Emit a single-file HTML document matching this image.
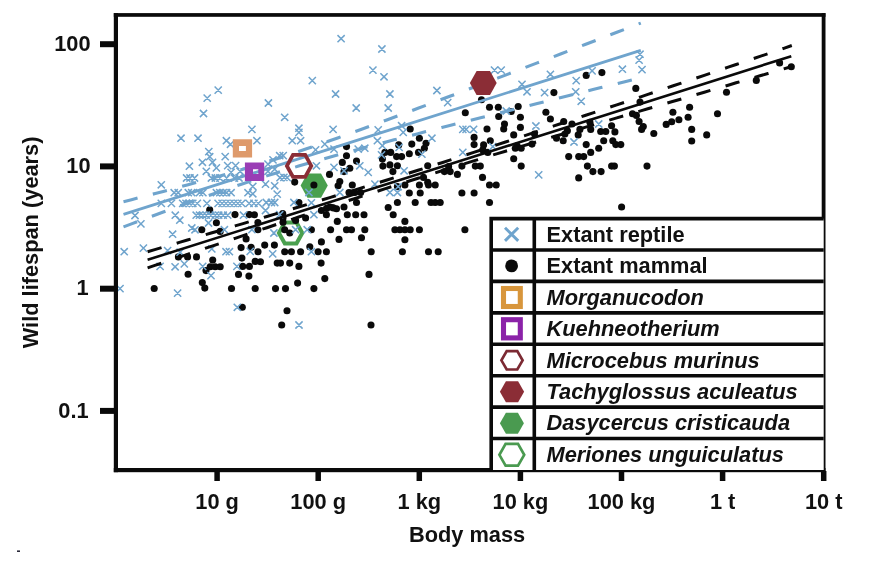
<!DOCTYPE html>
<html lang="en"><head><meta charset="utf-8"><title>Wild lifespan vs body mass</title>
<style>
html,body{margin:0;padding:0;background:#fff;}
body{width:888px;height:563px;overflow:hidden;}
svg{display:block;}
text{font-family:"Liberation Sans",Arial,Helvetica,sans-serif;font-weight:bold;fill:#111;}
.tk{font-size:21.8px;}
.lg{font-size:21.8px;}
.it{font-style:italic;}
</style></head><body>
<svg width="888" height="563" viewBox="0 0 888 563">
<rect width="888" height="563" fill="#fff"/>
<polygon points="327.8,185.6 321,197.7 307.4,197.7 300.6,185.6 307.4,173.5 321,173.5" fill="#4aa04e"/>
<polygon points="302.3,233 296.5,243.5 284.8,243.5 278.9,233 284.8,222.5 296.5,222.5" fill="none" stroke="#4aa04e" stroke-width="4"/>
<g fill="#0a0a0a">
<circle cx="481.5" cy="99.8" r="3.55"/>
<circle cx="489.5" cy="107.3" r="3.55"/>
<circle cx="498.3" cy="107.3" r="3.55"/>
<circle cx="518.2" cy="106.5" r="3.55"/>
<circle cx="465.3" cy="112.7" r="3.55"/>
<circle cx="511.2" cy="111.5" r="3.55"/>
<circle cx="545.9" cy="112.3" r="3.55"/>
<circle cx="553.9" cy="92.6" r="3.55"/>
<circle cx="586.2" cy="75.4" r="3.55"/>
<circle cx="601.9" cy="72.6" r="3.55"/>
<circle cx="635.8" cy="88.4" r="3.55"/>
<circle cx="640" cy="102.1" r="3.55"/>
<circle cx="672.9" cy="112.3" r="3.55"/>
<circle cx="689.6" cy="107.3" r="3.55"/>
<circle cx="632.5" cy="113.8" r="3.55"/>
<circle cx="779.6" cy="62.9" r="3.55"/>
<circle cx="791.3" cy="66.7" r="3.55"/>
<circle cx="756.3" cy="80.4" r="3.55"/>
<circle cx="726.5" cy="92.3" r="3.55"/>
<circle cx="717.5" cy="113.8" r="3.55"/>
<circle cx="209.7" cy="209.9" r="3.55"/>
<circle cx="235" cy="214.6" r="3.55"/>
<circle cx="249.3" cy="214.6" r="3.55"/>
<circle cx="216.4" cy="222.7" r="3.55"/>
<circle cx="254.4" cy="214.7" r="3.55"/>
<circle cx="201.8" cy="229.7" r="3.55"/>
<circle cx="220.2" cy="231.4" r="3.55"/>
<circle cx="246.1" cy="238.9" r="3.55"/>
<circle cx="241.1" cy="247.6" r="3.55"/>
<circle cx="251.1" cy="247.2" r="3.55"/>
<circle cx="255.2" cy="261.4" r="3.55"/>
<circle cx="178.4" cy="256.9" r="3.55"/>
<circle cx="187.6" cy="256.9" r="3.55"/>
<circle cx="196.5" cy="256.9" r="3.55"/>
<circle cx="212.7" cy="260.1" r="3.55"/>
<circle cx="210.2" cy="266.8" r="3.55"/>
<circle cx="215.2" cy="266.8" r="3.55"/>
<circle cx="220.2" cy="266.8" r="3.55"/>
<circle cx="206" cy="270.6" r="3.55"/>
<circle cx="241.9" cy="258.1" r="3.55"/>
<circle cx="242.7" cy="266.4" r="3.55"/>
<circle cx="249.4" cy="266.4" r="3.55"/>
<circle cx="238.5" cy="274.4" r="3.55"/>
<circle cx="248.9" cy="276.1" r="3.55"/>
<circle cx="188.1" cy="274.3" r="3.55"/>
<circle cx="202.3" cy="282.6" r="3.55"/>
<circle cx="204.8" cy="288.1" r="3.55"/>
<circle cx="154.2" cy="288.5" r="3.55"/>
<circle cx="231.5" cy="288.5" r="3.55"/>
<circle cx="255.2" cy="288.5" r="3.55"/>
<circle cx="257.9" cy="229.7" r="3.55"/>
<circle cx="346.5" cy="146.6" r="3.55"/>
<circle cx="346.5" cy="155.7" r="3.55"/>
<circle cx="342.3" cy="162.4" r="3.55"/>
<circle cx="356.5" cy="161.1" r="3.55"/>
<circle cx="349.8" cy="168.3" r="3.55"/>
<circle cx="344" cy="171.6" r="3.55"/>
<circle cx="329.5" cy="174.4" r="3.55"/>
<circle cx="294.7" cy="182.1" r="3.55"/>
<circle cx="313.9" cy="185" r="3.55"/>
<circle cx="339.8" cy="181.6" r="3.55"/>
<circle cx="338.1" cy="185.8" r="3.55"/>
<circle cx="352.3" cy="185" r="3.55"/>
<circle cx="349" cy="192.5" r="3.55"/>
<circle cx="354.8" cy="192.5" r="3.55"/>
<circle cx="360.7" cy="192.5" r="3.55"/>
<circle cx="356.5" cy="202.5" r="3.55"/>
<circle cx="298.9" cy="202.5" r="3.55"/>
<circle cx="398.7" cy="144.9" r="3.55"/>
<circle cx="384.9" cy="152.4" r="3.55"/>
<circle cx="390.7" cy="152.4" r="3.55"/>
<circle cx="396.6" cy="156.6" r="3.55"/>
<circle cx="401.6" cy="156.6" r="3.55"/>
<circle cx="382.4" cy="159.1" r="3.55"/>
<circle cx="382.9" cy="166.1" r="3.55"/>
<circle cx="389.9" cy="164.9" r="3.55"/>
<circle cx="397.4" cy="165.8" r="3.55"/>
<circle cx="392.9" cy="171.6" r="3.55"/>
<circle cx="397.4" cy="186.6" r="3.55"/>
<circle cx="404.9" cy="185" r="3.55"/>
<circle cx="397.4" cy="202.5" r="3.55"/>
<circle cx="344" cy="207" r="3.55"/>
<circle cx="329.8" cy="207" r="3.55"/>
<circle cx="388.2" cy="207.5" r="3.55"/>
<circle cx="326.4" cy="214.7" r="3.55"/>
<circle cx="347.3" cy="214.7" r="3.55"/>
<circle cx="355.7" cy="214.7" r="3.55"/>
<circle cx="364" cy="214.7" r="3.55"/>
<circle cx="393.2" cy="214.7" r="3.55"/>
<circle cx="321.4" cy="210.5" r="3.55"/>
<circle cx="336.5" cy="208.8" r="3.55"/>
<circle cx="337.3" cy="221.4" r="3.55"/>
<circle cx="404.9" cy="221.4" r="3.55"/>
<circle cx="330.6" cy="229.7" r="3.55"/>
<circle cx="346.5" cy="229.7" r="3.55"/>
<circle cx="351.5" cy="229.7" r="3.55"/>
<circle cx="364.8" cy="229.7" r="3.55"/>
<circle cx="394.9" cy="229.7" r="3.55"/>
<circle cx="399.9" cy="229.7" r="3.55"/>
<circle cx="404.9" cy="229.7" r="3.55"/>
<circle cx="311.4" cy="229.7" r="3.55"/>
<circle cx="284.7" cy="229.7" r="3.55"/>
<circle cx="289.7" cy="233" r="3.55"/>
<circle cx="339" cy="239.4" r="3.55"/>
<circle cx="361.5" cy="237.7" r="3.55"/>
<circle cx="321.4" cy="241.9" r="3.55"/>
<circle cx="404.9" cy="239.7" r="3.55"/>
<circle cx="264.7" cy="245.1" r="3.55"/>
<circle cx="274.4" cy="245.1" r="3.55"/>
<circle cx="309.8" cy="246.7" r="3.55"/>
<circle cx="258" cy="251.7" r="3.55"/>
<circle cx="284.7" cy="251.7" r="3.55"/>
<circle cx="291.4" cy="251.7" r="3.55"/>
<circle cx="300.6" cy="251.7" r="3.55"/>
<circle cx="318.1" cy="251.7" r="3.55"/>
<circle cx="326.4" cy="251.7" r="3.55"/>
<circle cx="371.2" cy="251.7" r="3.55"/>
<circle cx="402.4" cy="251.7" r="3.55"/>
<circle cx="260.5" cy="261.8" r="3.55"/>
<circle cx="277.2" cy="263.1" r="3.55"/>
<circle cx="280.5" cy="263.1" r="3.55"/>
<circle cx="289.7" cy="263.1" r="3.55"/>
<circle cx="321.1" cy="263.1" r="3.55"/>
<circle cx="298.9" cy="266.4" r="3.55"/>
<circle cx="369" cy="274.4" r="3.55"/>
<circle cx="324.8" cy="278.6" r="3.55"/>
<circle cx="297.6" cy="283.1" r="3.55"/>
<circle cx="275.5" cy="288.6" r="3.55"/>
<circle cx="285.5" cy="288.6" r="3.55"/>
<circle cx="313.9" cy="288.6" r="3.55"/>
<circle cx="283" cy="218" r="3.55"/>
<circle cx="295.6" cy="220.5" r="3.55"/>
<circle cx="305.6" cy="218" r="3.55"/>
<circle cx="283" cy="222.2" r="3.55"/>
<circle cx="498.7" cy="116.5" r="3.55"/>
<circle cx="520.4" cy="117.3" r="3.55"/>
<circle cx="550.4" cy="119" r="3.55"/>
<circle cx="410.2" cy="129" r="3.55"/>
<circle cx="487" cy="129" r="3.55"/>
<circle cx="504.5" cy="124" r="3.55"/>
<circle cx="503.7" cy="129" r="3.55"/>
<circle cx="520.4" cy="127.4" r="3.55"/>
<circle cx="513.7" cy="134.9" r="3.55"/>
<circle cx="419.4" cy="138.2" r="3.55"/>
<circle cx="411.8" cy="144.1" r="3.55"/>
<circle cx="426" cy="143.2" r="3.55"/>
<circle cx="424.4" cy="148.2" r="3.55"/>
<circle cx="409.3" cy="153.7" r="3.55"/>
<circle cx="418.5" cy="152.4" r="3.55"/>
<circle cx="474.1" cy="137.4" r="3.55"/>
<circle cx="474.1" cy="144.6" r="3.55"/>
<circle cx="490.3" cy="140.7" r="3.55"/>
<circle cx="483.6" cy="144.9" r="3.55"/>
<circle cx="482.8" cy="149.9" r="3.55"/>
<circle cx="487.8" cy="152.4" r="3.55"/>
<circle cx="517" cy="145.7" r="3.55"/>
<circle cx="515.3" cy="148.2" r="3.55"/>
<circle cx="521.2" cy="148.2" r="3.55"/>
<circle cx="532" cy="144.1" r="3.55"/>
<circle cx="534.5" cy="134" r="3.55"/>
<circle cx="513.7" cy="158.7" r="3.55"/>
<circle cx="521.2" cy="166.1" r="3.55"/>
<circle cx="427.7" cy="165.8" r="3.55"/>
<circle cx="448.6" cy="166.6" r="3.55"/>
<circle cx="444.4" cy="171.6" r="3.55"/>
<circle cx="450.2" cy="171.6" r="3.55"/>
<circle cx="461.9" cy="166.1" r="3.55"/>
<circle cx="475.3" cy="166.1" r="3.55"/>
<circle cx="480.3" cy="166.1" r="3.55"/>
<circle cx="457.4" cy="174.4" r="3.55"/>
<circle cx="423.5" cy="177.4" r="3.55"/>
<circle cx="482.5" cy="177.4" r="3.55"/>
<circle cx="419.4" cy="185" r="3.55"/>
<circle cx="427.7" cy="182.4" r="3.55"/>
<circle cx="428.5" cy="185" r="3.55"/>
<circle cx="435.2" cy="185" r="3.55"/>
<circle cx="489.5" cy="185" r="3.55"/>
<circle cx="496.2" cy="185" r="3.55"/>
<circle cx="409.3" cy="193" r="3.55"/>
<circle cx="420.2" cy="193" r="3.55"/>
<circle cx="461.9" cy="193" r="3.55"/>
<circle cx="474.1" cy="193" r="3.55"/>
<circle cx="415.2" cy="202.5" r="3.55"/>
<circle cx="431" cy="202.5" r="3.55"/>
<circle cx="435.2" cy="202.5" r="3.55"/>
<circle cx="440.2" cy="202.5" r="3.55"/>
<circle cx="489.5" cy="202.5" r="3.55"/>
<circle cx="410.2" cy="229.7" r="3.55"/>
<circle cx="419.4" cy="229.7" r="3.55"/>
<circle cx="464.9" cy="229.7" r="3.55"/>
<circle cx="428.5" cy="251.7" r="3.55"/>
<circle cx="438.2" cy="251.7" r="3.55"/>
<circle cx="639.1" cy="121.5" r="3.55"/>
<circle cx="643.3" cy="126.5" r="3.55"/>
<circle cx="641.6" cy="129.4" r="3.55"/>
<circle cx="653.8" cy="133.5" r="3.55"/>
<circle cx="666.2" cy="124.4" r="3.55"/>
<circle cx="671.7" cy="121.8" r="3.55"/>
<circle cx="678.9" cy="119.8" r="3.55"/>
<circle cx="688.1" cy="117.3" r="3.55"/>
<circle cx="691.7" cy="129.4" r="3.55"/>
<circle cx="691.7" cy="141" r="3.55"/>
<circle cx="563.7" cy="121.5" r="3.55"/>
<circle cx="572" cy="124" r="3.55"/>
<circle cx="567.4" cy="130.7" r="3.55"/>
<circle cx="564.9" cy="134" r="3.55"/>
<circle cx="556.5" cy="138.2" r="3.55"/>
<circle cx="563.2" cy="140.7" r="3.55"/>
<circle cx="579.9" cy="129.4" r="3.55"/>
<circle cx="578.2" cy="134.9" r="3.55"/>
<circle cx="589.9" cy="122.3" r="3.55"/>
<circle cx="590.7" cy="129.4" r="3.55"/>
<circle cx="600.7" cy="131.5" r="3.55"/>
<circle cx="605.8" cy="131.5" r="3.55"/>
<circle cx="611.6" cy="125.7" r="3.55"/>
<circle cx="614.9" cy="131.9" r="3.55"/>
<circle cx="603.7" cy="140.7" r="3.55"/>
<circle cx="612.8" cy="140.7" r="3.55"/>
<circle cx="615.8" cy="144.6" r="3.55"/>
<circle cx="620.8" cy="144.6" r="3.55"/>
<circle cx="586.2" cy="144.6" r="3.55"/>
<circle cx="598.7" cy="148.2" r="3.55"/>
<circle cx="590.7" cy="152.4" r="3.55"/>
<circle cx="568.7" cy="156.6" r="3.55"/>
<circle cx="578.7" cy="156.6" r="3.55"/>
<circle cx="583.7" cy="156.6" r="3.55"/>
<circle cx="587.4" cy="166.1" r="3.55"/>
<circle cx="592.9" cy="171.6" r="3.55"/>
<circle cx="601.1" cy="171.6" r="3.55"/>
<circle cx="611.6" cy="166.1" r="3.55"/>
<circle cx="614.4" cy="166.1" r="3.55"/>
<circle cx="647" cy="166.1" r="3.55"/>
<circle cx="578.7" cy="177.9" r="3.55"/>
<circle cx="621.6" cy="207" r="3.55"/>
<circle cx="282.7" cy="213.5" r="3.55"/>
<circle cx="326.6" cy="208.4" r="3.55"/>
<circle cx="333.3" cy="207.9" r="3.55"/>
<circle cx="257.9" cy="222.5" r="3.55"/>
<circle cx="706.7" cy="134.9" r="3.55"/>
<circle cx="242.3" cy="307.3" r="3.55"/>
<circle cx="287" cy="310.7" r="3.55"/>
<circle cx="281.7" cy="325" r="3.55"/>
<circle cx="371" cy="325" r="3.55"/>
<circle cx="636.4" cy="115.4" r="3.55"/>
</g>
<g stroke="#6fa4cd" stroke-width="1.5" fill="none" stroke-linecap="butt">
<path d="M214.6 86.5l7.2 7.2m0 -7.2l-7.2 7.2M203.6 94.5l7.2 7.2m0 -7.2l-7.2 7.2M199.9 109.9l7.2 7.2m0 -7.2l-7.2 7.2M337.5 35.1l7.2 7.2m0 -7.2l-7.2 7.2M378.3 45.4l7.2 7.2m0 -7.2l-7.2 7.2M369.3 66.5l7.2 7.2m0 -7.2l-7.2 7.2M380.4 73.2l7.2 7.2m0 -7.2l-7.2 7.2M308.7 77l7.2 7.2m0 -7.2l-7.2 7.2M332 90.4l7.2 7.2m0 -7.2l-7.2 7.2M386.3 90.4l7.2 7.2m0 -7.2l-7.2 7.2M264.8 99.4l7.2 7.2m0 -7.2l-7.2 7.2M352.6 104.4l7.2 7.2m0 -7.2l-7.2 7.2M384.6 104.4l7.2 7.2m0 -7.2l-7.2 7.2M433.3 86.9l7.2 7.2m0 -7.2l-7.2 7.2M444.1 99l7.2 7.2m0 -7.2l-7.2 7.2M490.9 66.5l7.2 7.2m0 -7.2l-7.2 7.2M497.6 66.5l7.2 7.2m0 -7.2l-7.2 7.2M518.4 80.7l7.2 7.2m0 -7.2l-7.2 7.2M523.4 88.2l7.2 7.2m0 -7.2l-7.2 7.2M541 89l7.2 7.2m0 -7.2l-7.2 7.2M546.8 70.7l7.2 7.2m0 -7.2l-7.2 7.2M502.6 107.4l7.2 7.2m0 -7.2l-7.2 7.2M636.4 50.6l7.2 7.2m0 -7.2l-7.2 7.2M635.5 56.5l7.2 7.2m0 -7.2l-7.2 7.2M638.4 66l7.2 7.2m0 -7.2l-7.2 7.2M618.8 65.6l7.2 7.2m0 -7.2l-7.2 7.2M588.5 67.3l7.2 7.2m0 -7.2l-7.2 7.2M572.6 77l7.2 7.2m0 -7.2l-7.2 7.2M572.1 88.2l7.2 7.2m0 -7.2l-7.2 7.2M577.6 97.7l7.2 7.2m0 -7.2l-7.2 7.2M157.7 199.8l7.2 7.2m0 -7.2l-7.2 7.2M167.8 199.8l7.2 7.2m0 -7.2l-7.2 7.2M179.1 199.8l7.2 7.2m0 -7.2l-7.2 7.2M182.4 199.8l7.2 7.2m0 -7.2l-7.2 7.2M185.8 199.8l7.2 7.2m0 -7.2l-7.2 7.2M189.2 199.8l7.2 7.2m0 -7.2l-7.2 7.2M193.7 199.8l7.2 7.2m0 -7.2l-7.2 7.2M203.3 199.8l7.2 7.2m0 -7.2l-7.2 7.2M214.5 199.8l7.2 7.2m0 -7.2l-7.2 7.2M218.5 199.8l7.2 7.2m0 -7.2l-7.2 7.2M222.4 199.8l7.2 7.2m0 -7.2l-7.2 7.2M226.4 199.8l7.2 7.2m0 -7.2l-7.2 7.2M230.3 199.8l7.2 7.2m0 -7.2l-7.2 7.2M234.2 199.8l7.2 7.2m0 -7.2l-7.2 7.2M238.2 199.8l7.2 7.2m0 -7.2l-7.2 7.2M245.5 199.8l7.2 7.2m0 -7.2l-7.2 7.2M170.6 189.1l7.2 7.2m0 -7.2l-7.2 7.2M174.6 189.1l7.2 7.2m0 -7.2l-7.2 7.2M184.7 189.1l7.2 7.2m0 -7.2l-7.2 7.2M188.1 189.1l7.2 7.2m0 -7.2l-7.2 7.2M195.9 189.1l7.2 7.2m0 -7.2l-7.2 7.2M199.3 189.1l7.2 7.2m0 -7.2l-7.2 7.2M212.8 189.1l7.2 7.2m0 -7.2l-7.2 7.2M216.2 189.1l7.2 7.2m0 -7.2l-7.2 7.2M219.6 189.1l7.2 7.2m0 -7.2l-7.2 7.2M223 189.1l7.2 7.2m0 -7.2l-7.2 7.2M227.5 189.1l7.2 7.2m0 -7.2l-7.2 7.2M244.4 189.1l7.2 7.2m0 -7.2l-7.2 7.2M171.7 211.6l7.2 7.2m0 -7.2l-7.2 7.2M192.6 211.6l7.2 7.2m0 -7.2l-7.2 7.2M195.9 211.6l7.2 7.2m0 -7.2l-7.2 7.2M199.3 211.6l7.2 7.2m0 -7.2l-7.2 7.2M202.7 211.6l7.2 7.2m0 -7.2l-7.2 7.2M207.2 211.6l7.2 7.2m0 -7.2l-7.2 7.2M211.7 211.6l7.2 7.2m0 -7.2l-7.2 7.2M215.1 211.6l7.2 7.2m0 -7.2l-7.2 7.2M219.6 211.6l7.2 7.2m0 -7.2l-7.2 7.2M224.1 211.6l7.2 7.2m0 -7.2l-7.2 7.2M239.9 211.6l7.2 7.2m0 -7.2l-7.2 7.2M176.2 216.6l7.2 7.2m0 -7.2l-7.2 7.2M183 174.4l7.2 7.2m0 -7.2l-7.2 7.2M186.4 174.4l7.2 7.2m0 -7.2l-7.2 7.2M190.9 174.4l7.2 7.2m0 -7.2l-7.2 7.2M207.8 174.4l7.2 7.2m0 -7.2l-7.2 7.2M211.7 174.4l7.2 7.2m0 -7.2l-7.2 7.2M216.2 174.4l7.2 7.2m0 -7.2l-7.2 7.2M223 174.4l7.2 7.2m0 -7.2l-7.2 7.2M230.9 174.4l7.2 7.2m0 -7.2l-7.2 7.2M235.4 174.4l7.2 7.2m0 -7.2l-7.2 7.2M185.8 162.6l7.2 7.2m0 -7.2l-7.2 7.2M202.7 167.7l7.2 7.2m0 -7.2l-7.2 7.2M198.8 158.7l7.2 7.2m0 -7.2l-7.2 7.2M208.9 158.7l7.2 7.2m0 -7.2l-7.2 7.2M212.8 164.3l7.2 7.2m0 -7.2l-7.2 7.2M224.1 162l7.2 7.2m0 -7.2l-7.2 7.2M232 162l7.2 7.2m0 -7.2l-7.2 7.2M227.5 168.8l7.2 7.2m0 -7.2l-7.2 7.2M236.5 167.7l7.2 7.2m0 -7.2l-7.2 7.2M157.7 181.2l7.2 7.2m0 -7.2l-7.2 7.2M248.3 125.8l7.2 7.2m0 -7.2l-7.2 7.2M177.4 134.6l7.2 7.2m0 -7.2l-7.2 7.2M194.4 134.6l7.2 7.2m0 -7.2l-7.2 7.2M222.8 137.1l7.2 7.2m0 -7.2l-7.2 7.2M253.3 137.1l7.2 7.2m0 -7.2l-7.2 7.2M205.2 148l7.2 7.2m0 -7.2l-7.2 7.2M221.6 153l7.2 7.2m0 -7.2l-7.2 7.2M131.4 211.9l7.2 7.2m0 -7.2l-7.2 7.2M137.3 220.3l7.2 7.2m0 -7.2l-7.2 7.2M169 230.6l7.2 7.2m0 -7.2l-7.2 7.2M188.2 224.4l7.2 7.2m0 -7.2l-7.2 7.2M204.9 219.4l7.2 7.2m0 -7.2l-7.2 7.2M120.6 248.1l7.2 7.2m0 -7.2l-7.2 7.2M139.8 244.5l7.2 7.2m0 -7.2l-7.2 7.2M164 247l7.2 7.2m0 -7.2l-7.2 7.2M176.5 248.6l7.2 7.2m0 -7.2l-7.2 7.2M208.2 245.3l7.2 7.2m0 -7.2l-7.2 7.2M222.4 248.1l7.2 7.2m0 -7.2l-7.2 7.2M225.8 248.1l7.2 7.2m0 -7.2l-7.2 7.2M246.6 247.8l7.2 7.2m0 -7.2l-7.2 7.2M171.5 263.2l7.2 7.2m0 -7.2l-7.2 7.2M180.7 260.3l7.2 7.2m0 -7.2l-7.2 7.2M156.5 262.8l7.2 7.2m0 -7.2l-7.2 7.2M199.1 262.8l7.2 7.2m0 -7.2l-7.2 7.2M207.4 272l7.2 7.2m0 -7.2l-7.2 7.2M233.3 262.8l7.2 7.2m0 -7.2l-7.2 7.2M174 289.5l7.2 7.2m0 -7.2l-7.2 7.2M116.4 285l7.2 7.2m0 -7.2l-7.2 7.2M220.8 226.1l7.2 7.2m0 -7.2l-7.2 7.2M248.3 226.1l7.2 7.2m0 -7.2l-7.2 7.2M281.1 113.7l7.2 7.2m0 -7.2l-7.2 7.2M295.3 124.6l7.2 7.2m0 -7.2l-7.2 7.2M295.3 128.8l7.2 7.2m0 -7.2l-7.2 7.2M329.5 125.8l7.2 7.2m0 -7.2l-7.2 7.2M288.6 137.1l7.2 7.2m0 -7.2l-7.2 7.2M297 137.1l7.2 7.2m0 -7.2l-7.2 7.2M321.2 140.5l7.2 7.2m0 -7.2l-7.2 7.2M374.6 126.3l7.2 7.2m0 -7.2l-7.2 7.2M398 122.1l7.2 7.2m0 -7.2l-7.2 7.2M399.6 128.8l7.2 7.2m0 -7.2l-7.2 7.2M373.8 137.1l7.2 7.2m0 -7.2l-7.2 7.2M378.8 142.1l7.2 7.2m0 -7.2l-7.2 7.2M395.5 143.8l7.2 7.2m0 -7.2l-7.2 7.2M276.1 152.1l7.2 7.2m0 -7.2l-7.2 7.2M269.4 156.3l7.2 7.2m0 -7.2l-7.2 7.2M264.4 160.5l7.2 7.2m0 -7.2l-7.2 7.2M271.1 165.5l7.2 7.2m0 -7.2l-7.2 7.2M280.3 173.8l7.2 7.2m0 -7.2l-7.2 7.2M312.8 162.2l7.2 7.2m0 -7.2l-7.2 7.2M312 146.3l7.2 7.2m0 -7.2l-7.2 7.2M330.4 145.5l7.2 7.2m0 -7.2l-7.2 7.2M354.6 145.5l7.2 7.2m0 -7.2l-7.2 7.2M361.2 144.6l7.2 7.2m0 -7.2l-7.2 7.2M330.4 163.8l7.2 7.2m0 -7.2l-7.2 7.2M340.4 167.2l7.2 7.2m0 -7.2l-7.2 7.2M356.2 162.2l7.2 7.2m0 -7.2l-7.2 7.2M364.6 168.8l7.2 7.2m0 -7.2l-7.2 7.2M377.9 151.3l7.2 7.2m0 -7.2l-7.2 7.2M261.9 180.5l7.2 7.2m0 -7.2l-7.2 7.2M271.1 182.2l7.2 7.2m0 -7.2l-7.2 7.2M273.6 190.5l7.2 7.2m0 -7.2l-7.2 7.2M262.7 198.9l7.2 7.2m0 -7.2l-7.2 7.2M267.8 198.9l7.2 7.2m0 -7.2l-7.2 7.2M271.1 198.9l7.2 7.2m0 -7.2l-7.2 7.2M290.3 198.9l7.2 7.2m0 -7.2l-7.2 7.2M336.2 188.9l7.2 7.2m0 -7.2l-7.2 7.2M305.3 188.9l7.2 7.2m0 -7.2l-7.2 7.2M386.3 188.9l7.2 7.2m0 -7.2l-7.2 7.2M393.8 188.9l7.2 7.2m0 -7.2l-7.2 7.2M371.3 180.5l7.2 7.2m0 -7.2l-7.2 7.2M394.6 183l7.2 7.2m0 -7.2l-7.2 7.2M400.5 167.2l7.2 7.2m0 -7.2l-7.2 7.2M261.9 206.9l7.2 7.2m0 -7.2l-7.2 7.2M310.3 211.1l7.2 7.2m0 -7.2l-7.2 7.2M270.3 229.4l7.2 7.2m0 -7.2l-7.2 7.2M292 226.1l7.2 7.2m0 -7.2l-7.2 7.2M303.6 226.1l7.2 7.2m0 -7.2l-7.2 7.2M269.1 250.3l7.2 7.2m0 -7.2l-7.2 7.2M307.8 248.1l7.2 7.2m0 -7.2l-7.2 7.2M276.1 211.1l7.2 7.2m0 -7.2l-7.2 7.2M428.3 134.6l7.2 7.2m0 -7.2l-7.2 7.2M459.2 125.8l7.2 7.2m0 -7.2l-7.2 7.2M462.5 125.8l7.2 7.2m0 -7.2l-7.2 7.2M470 125.8l7.2 7.2m0 -7.2l-7.2 7.2M459.2 148.8l7.2 7.2m0 -7.2l-7.2 7.2M532.3 122.4l7.2 7.2m0 -7.2l-7.2 7.2M535.1 171.3l7.2 7.2m0 -7.2l-7.2 7.2M418.3 150.5l7.2 7.2m0 -7.2l-7.2 7.2M489.2 143l7.2 7.2m0 -7.2l-7.2 7.2M595.1 120.4l7.2 7.2m0 -7.2l-7.2 7.2M570.4 138.4l7.2 7.2m0 -7.2l-7.2 7.2M226.9 140.7l7.2 7.2m0 -7.2l-7.2 7.2M206.1 153.1l7.2 7.2m0 -7.2l-7.2 7.2M249.2 182.9l7.2 7.2m0 -7.2l-7.2 7.2M249.2 190.2l7.2 7.2m0 -7.2l-7.2 7.2M250.3 199.8l7.2 7.2m0 -7.2l-7.2 7.2M254.8 199.8l7.2 7.2m0 -7.2l-7.2 7.2M307.8 199.2l7.2 7.2m0 -7.2l-7.2 7.2M264.4 167.7l7.2 7.2m0 -7.2l-7.2 7.2M279.6 152l7.2 7.2m0 -7.2l-7.2 7.2M191.4 226.2l7.2 7.2m0 -7.2l-7.2 7.2M233.7 303.7l7.2 7.2m0 -7.2l-7.2 7.2M295.4 321.4l7.2 7.2m0 -7.2l-7.2 7.2M276.4 174.1l7.2 7.2m0 -7.2l-7.2 7.2M283.6 174.1l7.2 7.2m0 -7.2l-7.2 7.2"/>
</g>
<g fill="none" stroke="#6fa4cd">
<path stroke-width="2.8" d="M123.5 214.3L382.1 132.4L640.8 50.4"/>
<path stroke-width="3.1" stroke-dasharray="14.5 15.8" d="M123.5 201.7L131.5 199.7L139.4 197.6L147.4 195.5L155.3 193.5L163.3 191.4L171.3 189.2L179.2 187.1L187.2 185L195.1 182.8L203.1 180.6L211 178.4L219 176.2L227 173.9L234.9 171.6L242.9 169.2L250.8 166.8L258.8 164.4L266.8 161.9L274.7 159.4L282.7 156.8L290.6 154.2L298.6 151.5L306.5 148.8L314.5 146.1L322.5 143.3L330.4 140.5L338.4 137.7L346.3 134.8L354.3 131.9L362.3 129L370.2 126.1L378.2 123.2L386.1 120.2L394.1 117.3L402 114.3L410 111.3L418 108.3L425.9 105.3L433.9 102.3L441.8 99.3L449.8 96.3L457.8 93.3L465.7 90.3L473.7 87.2L481.6 84.2L489.6 81.2L497.5 78.1L505.5 75.1L513.5 72L521.4 69L529.4 65.9L537.3 62.9L545.3 59.8L553.3 56.8L561.2 53.7L569.2 50.6L577.1 47.6L585.1 44.5L593 41.5L601 38.4L609 35.3L616.9 32.3L624.9 29.2L632.8 26.1L640.8 23.1"/>
<path stroke-width="3.1" stroke-dasharray="14.5 15.8" d="M123.5 226.9L131.5 223.9L139.4 220.9L147.4 217.9L155.3 215L163.3 212L171.3 209.1L179.2 206.2L187.2 203.3L195.1 200.4L203.1 197.6L211 194.7L219 191.9L227 189.2L234.9 186.4L242.9 183.7L250.8 181.1L258.8 178.5L266.8 175.9L274.7 173.4L282.7 170.9L290.6 168.5L298.6 166.1L306.5 163.8L314.5 161.5L322.5 159.2L330.4 157L338.4 154.7L346.3 152.6L354.3 150.4L362.3 148.3L370.2 146.1L378.2 144L386.1 141.9L394.1 139.8L402 137.8L410 135.7L418 133.7L425.9 131.6L433.9 129.6L441.8 127.5L449.8 125.5L457.8 123.5L465.7 121.5L473.7 119.5L481.6 117.5L489.6 115.5L497.5 113.5L505.5 111.5L513.5 109.5L521.4 107.5L529.4 105.5L537.3 103.5L545.3 101.5L553.3 99.5L561.2 97.5L569.2 95.5L577.1 93.6L585.1 91.6L593 89.6L601 87.6L609 85.6L616.9 83.7L624.9 81.7L632.8 79.7L640.8 77.7"/>
</g>
<g fill="none" stroke="#0a0a0a">
<path stroke-width="2.6" d="M147.6 259.8L469.4 158L791.3 56.2"/>
<path stroke-width="3" stroke-dasharray="14.5 15.8" d="M147.6 251.7L155.6 249.4L163.5 247.1L171.5 244.7L179.4 242.4L187.4 240L195.3 237.7L203.3 235.4L211.2 233L219.2 230.7L227.1 228.3L235.1 225.9L243 223.6L251 221.2L258.9 218.9L266.9 216.5L274.8 214.1L282.8 211.7L290.8 209.3L298.7 207L306.7 204.6L314.6 202.2L322.6 199.8L330.5 197.4L338.5 194.9L346.4 192.5L354.4 190.1L362.3 187.6L370.3 185.2L378.2 182.7L386.2 180.3L394.1 177.8L402.1 175.3L410.1 172.8L418 170.3L426 167.8L433.9 165.2L441.9 162.7L449.8 160.1L457.8 157.6L465.7 155L473.7 152.4L481.6 149.8L489.6 147.2L497.5 144.6L505.5 142L513.4 139.4L521.4 136.7L529.3 134.1L537.3 131.5L545.3 128.8L553.2 126.2L561.2 123.5L569.1 120.9L577.1 118.2L585 115.5L593 112.9L600.9 110.2L608.9 107.5L616.8 104.8L624.8 102.2L632.7 99.5L640.7 96.8L648.6 94.1L656.6 91.4L664.6 88.7L672.5 86L680.5 83.4L688.4 80.7L696.4 78L704.3 75.3L712.3 72.6L720.2 69.9L728.2 67.2L736.1 64.5L744.1 61.8L752 59.1L760 56.4L767.9 53.7L775.9 51L783.8 48.3L791.8 45.5"/>
<path stroke-width="3" stroke-dasharray="14.5 15.8" d="M147.6 267.9L155.6 265.2L163.5 262.5L171.5 259.8L179.4 257.1L187.4 254.4L195.3 251.7L203.3 249L211.2 246.3L219.2 243.7L227.1 241L235.1 238.3L243 235.6L251 233L258.9 230.3L266.9 227.7L274.8 225L282.8 222.3L290.8 219.7L298.7 217L306.7 214.4L314.6 211.8L322.6 209.2L330.5 206.5L338.5 203.9L346.4 201.3L354.4 198.7L362.3 196.1L370.3 193.5L378.2 191L386.2 188.4L394.1 185.9L402.1 183.3L410.1 180.8L418 178.3L426 175.8L433.9 173.3L441.9 170.8L449.8 168.3L457.8 165.8L465.7 163.4L473.7 160.9L481.6 158.5L489.6 156L497.5 153.6L505.5 151.2L513.4 148.8L521.4 146.4L529.3 144L537.3 141.6L545.3 139.2L553.2 136.8L561.2 134.5L569.1 132.1L577.1 129.7L585 127.4L593 125L600.9 122.6L608.9 120.3L616.8 117.9L624.8 115.6L632.7 113.2L640.7 110.9L648.6 108.5L656.6 106.2L664.6 103.8L672.5 101.5L680.5 99.2L688.4 96.8L696.4 94.5L704.3 92.2L712.3 89.8L720.2 87.5L728.2 85.2L736.1 82.8L744.1 80.5L752 78.2L760 75.8L767.9 73.5L775.9 71.2L783.8 68.9L791.8 66.5"/>
</g>
<polygon points="311.3,165.9 305.2,176.9 293,176.9 286.9,165.9 293,154.9 305.2,154.9" fill="none" stroke="#8b2d36" stroke-width="3.8"/>
<polygon points="496.7,82.9 490,94.9 476.6,94.9 469.9,82.9 476.6,70.9 490,70.9" fill="#8b2d36"/>
<path fill-rule="evenodd" fill="#de9a6b" d="M232.8 139.3h19.3v18.3h-19.3zM239 145.9h6.9v5.2h-6.9z"/>
<path fill-rule="evenodd" fill="#9a3db5" d="M244.9 162.6h19.3v18.4h-19.3zM253 169.3h5.3v4.6h-5.3z"/>
<rect x="17" y="550.4" width="3" height="1.6" fill="#2a2a3a"/>
<g fill="#0a0a0a"><rect x="113.8" y="13.1" width="4.2" height="459.1"/><rect x="113.8" y="13.1" width="711.7" height="3.7"/><rect x="821.7" y="13.1" width="3.8" height="459.1"/><rect x="113.8" y="468" width="711.7" height="4.2"/></g>
<g stroke="#0a0a0a" stroke-width="6" fill="none">
<path d="M100 44.2H115"/>
<path d="M100 166.4H115"/>
<path d="M100 288.7H115"/>
<path d="M100 410.9H115"/>
</g><g stroke="#0a0a0a" stroke-width="5.5" fill="none">
<path d="M217.1 471V481"/>
<path d="M318.2 471V481"/>
<path d="M419.3 471V481"/>
<path d="M520.4 471V481"/>
<path d="M621.5 471V481"/>
<path d="M722.6 471V481"/>
<path d="M823.7 471V481"/>
</g>
<text class="tk" x="90.6" y="51.4" text-anchor="end">100</text>
<text class="tk" x="90.6" y="173.1" text-anchor="end">10</text>
<text class="tk" x="88.6" y="295.4" text-anchor="end">1</text>
<text class="tk" x="88.6" y="418.1" text-anchor="end">0.1</text>
<text class="tk" x="217.1" y="509" text-anchor="middle">10 g</text>
<text class="tk" x="318.2" y="509" text-anchor="middle">100 g</text>
<text class="tk" x="419.3" y="509" text-anchor="middle">1 kg</text>
<text class="tk" x="520.4" y="509" text-anchor="middle">10 kg</text>
<text class="tk" x="621.5" y="509" text-anchor="middle">100 kg</text>
<text class="tk" x="722.6" y="509" text-anchor="middle">1 t</text>
<text class="tk" x="823.7" y="509" text-anchor="middle">10 t</text>
<text class="tk" x="467.1" y="542" text-anchor="middle">Body mass</text>
<text class="tk" transform="translate(38.3 242.4) rotate(-90)" text-anchor="middle">Wild lifespan (years)</text>
<rect x="491.2" y="218.6" width="332.5" height="251.4" fill="#fff"/>
<g stroke="#0a0a0a" stroke-width="3.6" fill="none">
<path d="M489.4 218.6H823.7M489.4 250H823.7M489.4 281.4H823.7M489.4 312.9H823.7M489.4 344.3H823.7M489.4 375.7H823.7M489.4 407.1H823.7M489.4 438.5H823.7M491.2 218.6V470M534.3 218.6V470"/>
</g>
<path d="M505 227.7l13.2 13.2m0 -13.2l-13.2 13.2" stroke="#6fa4cd" stroke-width="2.9" fill="none"/>
<circle cx="511.6" cy="265.9" r="6.4" fill="#0a0a0a"/>
<rect x="503.5" y="288.5" width="16.8" height="18" fill="none" stroke="#d8963c" stroke-width="5.1"/>
<rect x="503.5" y="319.7" width="16.8" height="18.2" fill="none" stroke="#8b22a8" stroke-width="5.1"/>
<polygon points="522.6,360.3 517.3,369.5 506.7,369.5 501.4,360.3 506.7,351.1 517.3,351.1" fill="none" stroke="#7c2a33" stroke-width="2.7"/>
<polygon points="524.1,391.7 518.1,402.2 505.9,402.2 499.9,391.7 505.9,381.2 518.1,381.2" fill="#8b2d36"/>
<polygon points="523.9,423.3 517.9,433.8 505.9,433.8 499.9,423.3 505.9,412.8 517.9,412.8" fill="#4a9a50"/>
<polygon points="524.2,454.8 518,465.6 505.6,465.6 499.4,454.8 505.6,443.9 518,443.9" fill="none" stroke="#4a9a50" stroke-width="2.7"/>
<text class="lg" x="546.5" y="241.8">Extant reptile</text>
<text class="lg" x="546.5" y="273.2">Extant mammal</text>
<text class="lg it" x="546.5" y="304.6">Morganucodon</text>
<text class="lg it" x="546.5" y="336.1">Kuehneotherium</text>
<text class="lg it" x="546.5" y="367.5">Microcebus murinus</text>
<text class="lg it" x="546.5" y="398.9">Tachyglossus aculeatus</text>
<text class="lg it" x="546.5" y="430.3">Dasycercus cristicauda</text>
<text class="lg it" x="546.5" y="461.8">Meriones unguiculatus</text>
</svg></body></html>
